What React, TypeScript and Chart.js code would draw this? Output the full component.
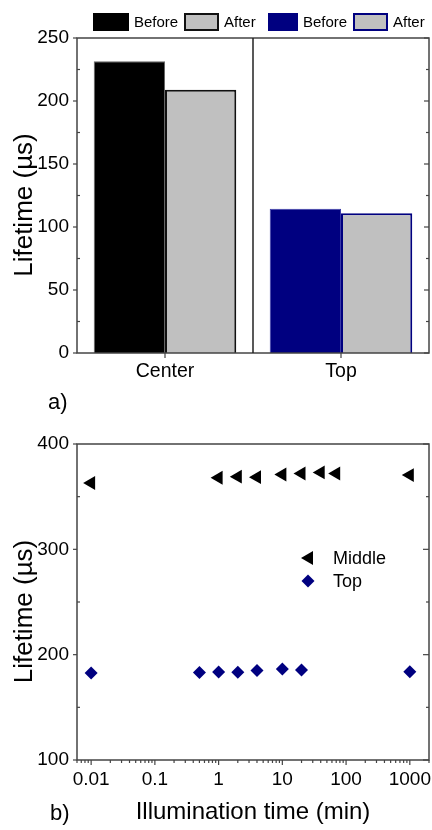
import React, { useEffect, useRef } from 'react';
import { Chart, registerables } from 'chart.js';

Chart.register(...registerables);

const FONT = '"Liberation Sans", Arial, Helvetica, sans-serif';
const AXIS = '#444444';
const NAVY = '#000080';
const GREY = '#c0c0c0';

// ---------- Panel a) data ----------
const barCategories = ['Center', 'Top'];
const barLegendLabels = ['Before', 'After', 'Before', 'After'];
const centerBefore = [231.5, null];
const centerAfter = [209, null];
const topBefore = [null, 114.5];
const topAfter = [null, 111];
const barYTicks = [0, 50, 100, 150, 200, 250];

// ---------- Panel b) data ----------
const seriesNames = ['Middle', 'Top'];
const timeMiddle = [0.01, 1, 2, 4, 10, 20, 40, 70, 1000];
const lifetimeMiddle = [363, 368, 369, 368.5, 371, 372, 373, 372, 370.5];
const timeTop = [0.01, 0.5, 1, 2, 4, 10, 20, 1000];
const lifetimeTop = [182.5, 183, 183.5, 183.3, 185, 186.3, 185.5, 183.8];
const timeTicks = [0.01, 0.1, 1, 10, 100, 1000];
const lifetimeTicks = [100, 200, 300, 400];

const yAxisTitle = 'Lifetime (µs)';
const xAxisTitleB = 'Illumination time (min)';

function seg(ctx: CanvasRenderingContext2D, x1: number, y1: number, x2: number, y2: number) {
  ctx.beginPath();
  ctx.moveTo(x1, y1);
  ctx.lineTo(x2, y2);
  ctx.stroke();
}

function drawYTitle(ctx: CanvasRenderingContext2D, a: any) {
  ctx.save();
  ctx.fillStyle = '#000';
  ctx.font = `26px ${FONT}`;
  ctx.textAlign = 'center';
  ctx.textBaseline = 'middle';
  ctx.translate(25, (a.top + a.bottom) / 2 + 9.5);
  ctx.rotate(-Math.PI / 2);
  ctx.fillText(yAxisTitle, 0, 0);
  ctx.restore();
}

const panelAFrame = {
  id: 'panelAFrame',
  afterDatasetsDraw(chart: any) {
    const { ctx, chartArea: a, scales } = chart;
    const x = scales.x;
    const y = scales.y;
    ctx.save();
    ctx.strokeStyle = AXIS;
    ctx.lineWidth = 1.5;
    ctx.strokeRect(a.left, a.top, a.right - a.left, a.bottom - a.top);
    // divider between the two groups
    const mid = (x.getPixelForValue(0) + x.getPixelForValue(1)) / 2;
    ctx.strokeStyle = '#222';
    seg(ctx, mid, a.top, mid, a.bottom);
    ctx.strokeStyle = AXIS;
    ctx.lineWidth = 1.2;
    barYTicks.forEach((v) => {
      const py = y.getPixelForValue(v);
      seg(ctx, a.left - 4, py, a.left, py);
      seg(ctx, a.right - 5, py, a.right, py);
    });
    for (let i = 0; i < barYTicks.length - 1; i++) {
      const py = y.getPixelForValue((barYTicks[i] + barYTicks[i + 1]) / 2);
      seg(ctx, a.left, py, a.left + 3, py);
      seg(ctx, a.right - 3, py, a.right, py);
    }
    barCategories.forEach((_, i) => {
      const px = x.getPixelForValue(i);
      seg(ctx, px, a.bottom, px, a.bottom + 5);
    });
    ctx.restore();
    drawYTitle(ctx, a);
  },
};

const barLegendX = [93, 184, 268, 353];
const barLegendW = [36, 35, 30, 35];
const barLegendOutline = [false, true, false, true];

const panelALegend = {
  id: 'panelALegend',
  afterDraw(chart: any) {
    const { ctx } = chart;
    ctx.save();
    ctx.font = `15px ${FONT}`;
    ctx.textBaseline = 'middle';
    ctx.textAlign = 'left';
    const top = 13;
    const h = 18;
    chart.data.datasets.forEach((ds: any, i: number) => {
      const bx = barLegendX[i];
      const bw = barLegendW[i];
      ctx.fillStyle = ds.backgroundColor;
      ctx.fillRect(bx, top, bw, h);
      if (barLegendOutline[i]) {
        ctx.strokeStyle = ds.borderColor;
        ctx.lineWidth = 2;
        ctx.strokeRect(bx + 1, top + 1, bw - 2, h - 2);
      }
      ctx.fillStyle = '#000';
      ctx.fillText(ds.label, bx + bw + 5, top + h / 2 + 0.5);
    });
    ctx.restore();
  },
};

const panelBFrame = {
  id: 'panelBFrame',
  afterDatasetsDraw(chart: any) {
    const { ctx, chartArea: a, scales } = chart;
    const x = scales.x;
    const y = scales.y;
    ctx.save();
    ctx.strokeStyle = AXIS;
    ctx.lineWidth = 1.5;
    ctx.strokeRect(a.left, a.top, a.right - a.left, a.bottom - a.top);
    ctx.lineWidth = 1.2;
    lifetimeTicks.forEach((v) => {
      const py = y.getPixelForValue(v);
      seg(ctx, a.left - 4, py, a.left, py);
      seg(ctx, a.right - 6, py, a.right, py);
    });
    for (let i = 0; i < lifetimeTicks.length - 1; i++) {
      const py = y.getPixelForValue((lifetimeTicks[i] + lifetimeTicks[i + 1]) / 2);
      seg(ctx, a.left, py, a.left + 3, py);
      seg(ctx, a.right - 3, py, a.right, py);
    }
    const lo = x.min;
    const hi = x.max;
    for (let e = -4; e <= 4; e++) {
      const d = Math.pow(10, e);
      for (let k = 1; k <= 9; k++) {
        const v = d * k;
        if (v < lo || v > hi) continue;
        const px = x.getPixelForValue(v);
        seg(ctx, px, a.bottom, px, a.bottom + (k === 1 ? 5 : 3));
      }
    }
    ctx.restore();
    drawYTitle(ctx, a);
  },
};

const panelBLegend = {
  id: 'panelBLegend',
  afterDraw(chart: any) {
    const { ctx, chartArea: a } = chart;
    const ds = chart.data.datasets;
    ctx.save();
    ctx.font = `18px ${FONT}`;
    ctx.textBaseline = 'middle';
    ctx.textAlign = 'left';
    // triangle (left pointing)
    const tx = a.left + 232;
    const ty = a.top + 114;
    ctx.fillStyle = ds[0].pointBackgroundColor;
    ctx.beginPath();
    ctx.moveTo(tx - 8, ty);
    ctx.lineTo(tx + 4, ty - 6.9);
    ctx.lineTo(tx + 4, ty + 6.9);
    ctx.closePath();
    ctx.fill();
    // diamond
    const dx = a.left + 231;
    const dy = a.top + 137;
    ctx.fillStyle = ds[1].pointBackgroundColor;
    ctx.beginPath();
    ctx.moveTo(dx, dy - 6.5);
    ctx.lineTo(dx + 6.5, dy);
    ctx.lineTo(dx, dy + 6.5);
    ctx.lineTo(dx - 6.5, dy);
    ctx.closePath();
    ctx.fill();
    ctx.fillStyle = '#000';
    ctx.fillText(ds[0].label, a.left + 256, ty + 1);
    ctx.fillText(ds[1].label, a.left + 256, dy + 1);
    ctx.restore();
  },
};

export default function App() {
  const refA = useRef<HTMLCanvasElement>(null);
  const refB = useRef<HTMLCanvasElement>(null);

  useEffect(() => {
    const chartA = new Chart(refA.current as HTMLCanvasElement, {
      type: 'bar',
      data: {
        labels: barCategories,
        datasets: [
          { label: barLegendLabels[0], data: centerBefore, backgroundColor: '#000000', borderColor: '#666666', borderWidth: 1 },
          { label: barLegendLabels[1], data: centerAfter, backgroundColor: GREY, borderColor: '#111111', borderWidth: 2 },
          { label: barLegendLabels[2], data: topBefore, backgroundColor: NAVY, borderColor: '#3a3aa8', borderWidth: 1 },
          { label: barLegendLabels[3], data: topAfter, backgroundColor: GREY, borderColor: NAVY, borderWidth: 2 },
        ] as any,
      },
      options: {
        animation: false,
        responsive: false,
        layout: { autoPadding: false, padding: { top: 38, right: 3, bottom: 0, left: 0 } },
        datasets: { bar: { skipNull: true, categoryPercentage: 0.81, barPercentage: 1 } } as any,
        plugins: { legend: { display: false }, tooltip: { enabled: false } },
        scales: {
          x: {
            grid: { display: false, drawTicks: false },
            border: { display: false },
            ticks: { color: '#000', font: { family: FONT, size: 19.5 }, padding: 7, maxRotation: 0 },
            afterFit: (s: any) => { s.height = 67; s.paddingLeft = 0; s.paddingRight = 0; },
          },
          y: {
            min: 0,
            max: 250,
            afterBuildTicks: (s: any) => { s.ticks = barYTicks.map((v) => ({ value: v })); },
            grid: { display: false, drawTicks: false },
            border: { display: false },
            ticks: { color: '#000', font: { family: FONT, size: 19 }, padding: 8 },
            afterFit: (s: any) => { s.width = 77; },
          },
        },
      } as any,
      plugins: [panelAFrame, panelALegend],
    });

    const chartB = new Chart(refB.current as HTMLCanvasElement, {
      type: 'scatter',
      data: {
        datasets: [
          {
            label: seriesNames[0],
            data: timeMiddle.map((t, i) => ({ x: t, y: lifetimeMiddle[i] })),
            pointStyle: 'triangle',
            pointRotation: -90,
            pointRadius: 8,
            pointBackgroundColor: '#000000',
            pointBorderColor: '#000000',
            pointBorderWidth: 0,
            showLine: false,
          },
          {
            label: seriesNames[1],
            data: timeTop.map((t, i) => ({ x: t, y: lifetimeTop[i] })),
            pointStyle: 'rectRot',
            pointRadius: 6.5,
            pointBackgroundColor: NAVY,
            pointBorderColor: NAVY,
            pointBorderWidth: 0,
            showLine: false,
          },
        ] as any,
      },
      options: {
        animation: false,
        responsive: false,
        layout: { autoPadding: false, padding: { top: 24, right: 3, bottom: 0, left: 0 } },
        plugins: { legend: { display: false }, tooltip: { enabled: false } },
        scales: {
          x: {
            type: 'logarithmic',
            min: 0.006,
            max: 2000,
            bounds: 'data',
            afterBuildTicks: (s: any) => { s.ticks = timeTicks.map((v) => ({ value: v })); },
            grid: { display: false, drawTicks: false },
            border: { display: false },
            ticks: { color: '#000', font: { family: FONT, size: 19 }, padding: 8, maxRotation: 0, autoSkip: false, callback: (v: any) => String(v) },
            title: { display: true, text: xAxisTitleB, color: '#000', font: { family: FONT, size: 24 }, padding: { top: 0, bottom: 3 } },
            afterFit: (s: any) => { s.height = 70; s.paddingLeft = 0; s.paddingRight = 0; },
          },
          y: {
            min: 100,
            max: 400,
            afterBuildTicks: (s: any) => { s.ticks = lifetimeTicks.map((v) => ({ value: v })); },
            grid: { display: false, drawTicks: false },
            border: { display: false },
            ticks: { color: '#000', font: { family: FONT, size: 19 }, padding: 8 },
            afterFit: (s: any) => { s.width = 77; },
          },
        },
      } as any,
      plugins: [panelBFrame, panelBLegend],
    });

    return () => {
      chartA.destroy();
      chartB.destroy();
    };
  }, []);

  const panelLabel: React.CSSProperties = {
    position: 'absolute',
    fontFamily: FONT,
    fontSize: 22,
    lineHeight: '22px',
    color: '#000',
    margin: 0,
  };

  return (
    <div style={{ position: 'absolute', left: 0, top: 0, width: 432, height: 830, overflow: 'hidden', background: '#fff' }}>
      <canvas ref={refA} width={432} height={420} style={{ position: 'absolute', left: 0, top: 0 }} />
      <canvas ref={refB} width={432} height={410} style={{ position: 'absolute', left: 0, top: 420 }} />
      <div style={{ ...panelLabel, left: 48, top: 391 }}>a)</div>
      <div style={{ ...panelLabel, left: 50, top: 802 }}>b)</div>
    </div>
  );
}
